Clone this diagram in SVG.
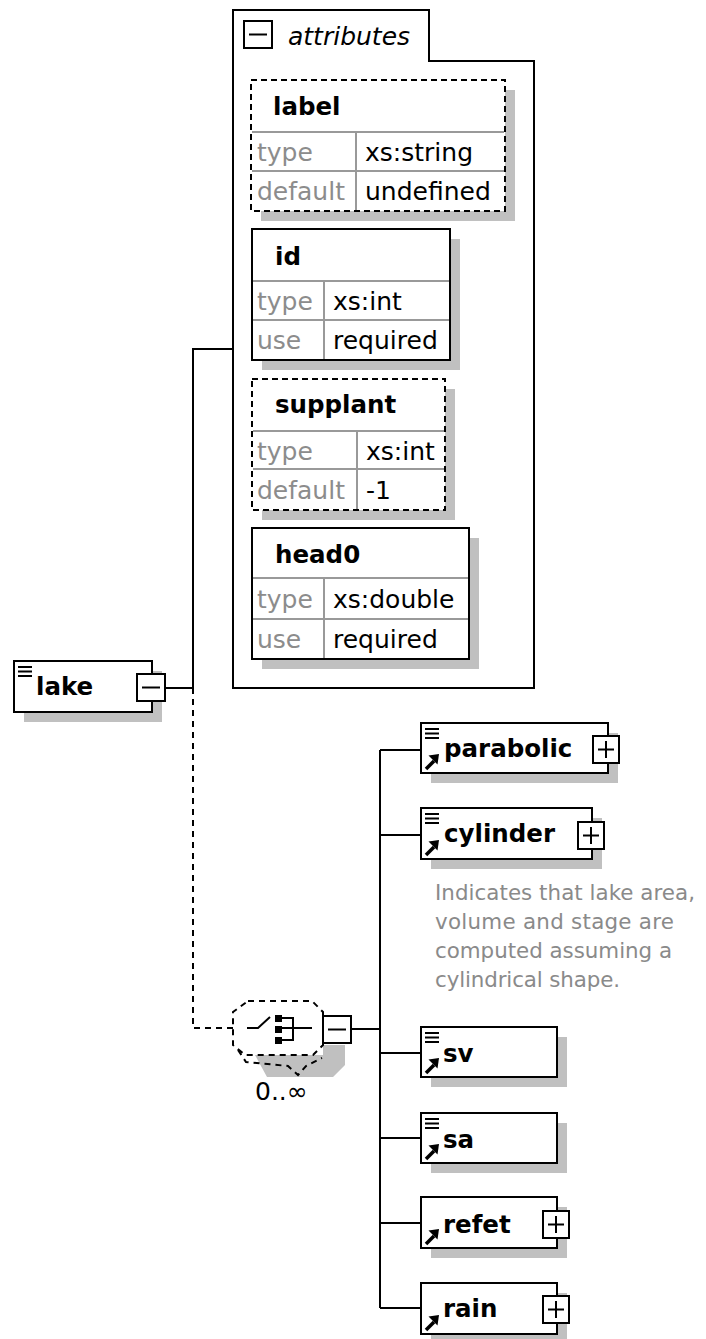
<svg xmlns="http://www.w3.org/2000/svg" width="706" height="1339" viewBox="0 0 706 1339">
  <style>
    .box { fill: #fff; stroke: #000; stroke-width: 2; }
    .dash { stroke-dasharray: 6 4; }
    .shadow { fill: #c0c0c0; stroke: none; }
    .div { stroke: #999; stroke-width: 2; fill: none; }
    .ln { stroke: #000; stroke-width: 2; fill: none; }
    .dln { stroke: #000; stroke-width: 2; fill: none; stroke-dasharray: 6 5; }
    .name { font-family: "DejaVu Sans", sans-serif; font-weight: bold; font-size: 24.5px; fill: #000; }
    .val { font-family: "DejaVu Sans", sans-serif; font-size: 25px; fill: #000; }
    .key { font-family: "DejaVu Sans", sans-serif; font-size: 25px; fill: #8c8c8c; }
    .doc { font-family: "DejaVu Sans", sans-serif; font-size: 21.4px; fill: #8a8a8a; }
    .ital { font-family: "DejaVu Sans", sans-serif; font-style: italic; font-size: 25px; fill: #000; }
  </style>
  <defs>
    <!-- "has documentation" icon -->
    <g id="docIcon" class="ln">
      <path d="M0,0 H14 M0,4.5 H14 M0,9 H14"/>
    </g>
    <!-- reference arrow icon -->
    <g id="refIcon">
      <path d="M1,15 L9,7" stroke="#000" stroke-width="3.5" fill="none"/>
      <polygon points="14,0 3.5,1.5 12.5,10.5" fill="#000"/>
    </g>
    <g id="plusBox">
      <rect x="0" y="0" width="26" height="27" class="box"/>
      <path d="M5,13.5 H21 M13,5 V22" class="ln"/>
    </g>
    <g id="minusBox">
      <rect x="0" y="0" width="28" height="27" class="box"/>
      <path d="M5,13.5 H23" class="ln"/>
    </g>
  </defs>

  <!-- connectors -->
  <g id="connectors">
    <path class="ln" d="M165,688 H193 V349 H233"/>
    <path class="dln" d="M193,688 V1028 H233"/>
    <path class="ln" d="M352,1029 H380"/>
    <path class="ln" d="M380,750 V1308"/>
    <path class="ln" d="M380,750 H421 M380,835 H421 M380,1053 H421 M380,1138 H421 M380,1223 H421 M380,1308 H421"/>
  </g>

  <!-- attributes group -->
  <g id="attributes">
    <path d="M233,688 V10 H429 V61 H534 V688 Z" fill="#fff" stroke="#000" stroke-width="2"/>
    <use href="#minusBox" x="244" y="21"/>
    <text class="ital" x="288" y="45">attributes</text>
  </g>

  <g id="attr-label">
    <rect class="shadow" x="261" y="90" width="254" height="131"/>
    <rect class="box dash" x="251" y="80" width="254" height="131"/>
    <path class="div" d="M252,132 H504 M252,171 H504 M356,132 V210"/>
    <text class="name" x="273" y="115">label</text>
    <text class="key" x="257" y="161">type</text>
    <text class="val" x="365" y="161">xs:string</text>
    <text class="key" x="257" y="200">default</text>
    <text class="val" x="365" y="200">undefined</text>
  </g>

  <g id="attr-id">
    <rect class="shadow" x="262" y="239" width="198" height="131"/>
    <rect class="box" x="252" y="229" width="198" height="131"/>
    <path class="div" d="M253,281 H449 M253,320 H449 M324,281 V359"/>
    <text class="name" x="275" y="265">id</text>
    <text class="key" x="257" y="310">type</text>
    <text class="val" x="333" y="310">xs:int</text>
    <text class="key" x="257" y="349">use</text>
    <text class="val" x="333" y="349">required</text>
  </g>

  <g id="attr-supplant">
    <rect class="shadow" x="262" y="389" width="193" height="131"/>
    <rect class="box dash" x="252" y="379" width="193" height="131"/>
    <path class="div" d="M253,431 H444 M253,469 H444 M357,431 V509"/>
    <text class="name" x="275" y="413">supplant</text>
    <text class="key" x="257" y="460">type</text>
    <text class="val" x="366" y="460">xs:int</text>
    <text class="key" x="257" y="499">default</text>
    <text class="val" x="366" y="499">-1</text>
  </g>

  <g id="attr-head0">
    <rect class="shadow" x="262" y="538" width="217" height="131"/>
    <rect class="box" x="252" y="528" width="217" height="131"/>
    <path class="div" d="M253,578 H468 M253,619 H468 M324,578 V658"/>
    <text class="name" x="275" y="563">head0</text>
    <text class="key" x="257" y="608">type</text>
    <text class="val" x="333" y="608">xs:double</text>
    <text class="key" x="257" y="648">use</text>
    <text class="val" x="333" y="648">required</text>
  </g>

  <!-- root element -->
  <g id="lake">
    <rect class="shadow" x="24" y="671" width="138" height="51"/>
    <rect class="box" x="14" y="661" width="138" height="51"/>
    <use href="#docIcon" x="18" y="667"/>
    <text class="name" x="36" y="695">lake</text>
    <use href="#minusBox" x="137" y="674"/>
  </g>

  <!-- sequence compositor, 0..unbounded -->
  <g id="sequence">
    <path class="shadow" d="M255,1055 H323 V1045 H345 V1065 L333,1077 H267 Z"/>
    <path d="M248,1001 H312 L323,1012 V1045 L313,1055 H245 L233,1045 V1012 Z" fill="#fff" stroke="#000" stroke-width="2" stroke-dasharray="6 5"/>
    <path d="M238,1050 L246,1062 L288,1066 L298,1075 L306,1066 L322,1058" class="dln"/>
    <path class="ln" d="M247,1028 H258 L270,1017"/>
    <rect x="275" y="1015" width="7" height="7" fill="#000"/>
    <rect x="275" y="1026" width="7" height="7" fill="#000"/>
    <rect x="275" y="1037" width="7" height="7" fill="#000"/>
    <path class="ln" d="M282,1018 H293 V1040 H282 M282,1028 H312"/>
    <use href="#minusBox" x="323" y="1016"/>
    <text class="val" x="255" y="1100">0..∞</text>
  </g>

  <!-- child elements -->
  <g id="parabolic">
    <rect class="shadow" x="431" y="733" width="187" height="50"/>
    <rect class="box" x="421" y="723" width="187" height="50"/>
    <use href="#docIcon" x="425" y="729"/>
    <use href="#refIcon" x="425" y="754"/>
    <text class="name" x="444" y="757">parabolic</text>
    <use href="#plusBox" x="593" y="736"/>
  </g>

  <g id="cylinder">
    <rect class="shadow" x="431" y="818" width="171" height="51"/>
    <rect class="box" x="421" y="808" width="171" height="51"/>
    <use href="#docIcon" x="425" y="814"/>
    <use href="#refIcon" x="425" y="840"/>
    <text class="name" x="444" y="842">cylinder</text>
    <use href="#plusBox" x="578" y="822"/>
    <text class="doc" x="435" y="900" textLength="260" lengthAdjust="spacing">Indicates that lake area,</text>
    <text class="doc" x="435" y="929" textLength="239" lengthAdjust="spacing">volume and stage are</text>
    <text class="doc" x="435" y="958" textLength="237" lengthAdjust="spacing">computed assuming a</text>
    <text class="doc" x="435" y="987" textLength="185" lengthAdjust="spacing">cylindrical shape.</text>
  </g>

  <g id="sv">
    <rect class="shadow" x="431" y="1037" width="136" height="50"/>
    <rect class="box" x="421" y="1027" width="136" height="50"/>
    <use href="#docIcon" x="425" y="1033"/>
    <use href="#refIcon" x="425" y="1058"/>
    <text class="name" x="443" y="1062">sv</text>
  </g>

  <g id="sa">
    <rect class="shadow" x="431" y="1123" width="136" height="50"/>
    <rect class="box" x="421" y="1113" width="136" height="50"/>
    <use href="#docIcon" x="425" y="1119"/>
    <use href="#refIcon" x="425" y="1144"/>
    <text class="name" x="443" y="1148">sa</text>
  </g>

  <g id="refet">
    <rect class="shadow" x="431" y="1207" width="136" height="51"/>
    <rect class="box" x="421" y="1197" width="136" height="51"/>
    <use href="#refIcon" x="425" y="1229"/>
    <text class="name" x="443" y="1233">refet</text>
    <use href="#plusBox" x="543" y="1211"/>
  </g>

  <g id="rain">
    <rect class="shadow" x="431" y="1293" width="136" height="51"/>
    <rect class="box" x="421" y="1283" width="136" height="51"/>
    <use href="#refIcon" x="425" y="1315"/>
    <text class="name" x="443" y="1317">rain</text>
    <use href="#plusBox" x="543" y="1296"/>
  </g>
</svg>
